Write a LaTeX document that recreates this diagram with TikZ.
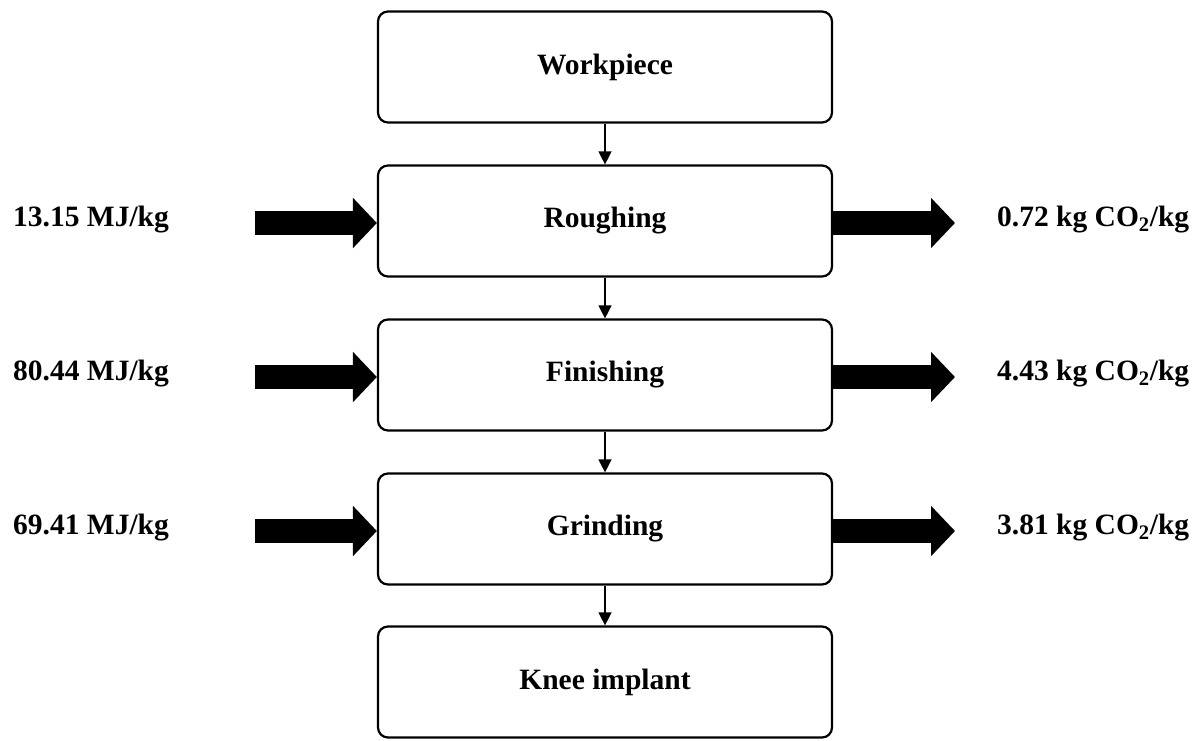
\documentclass[tikz,border=0pt]{standalone}
\usepackage{fontspec}
\setmainfont{Liberation Serif}
\usetikzlibrary{arrows.meta}

\begin{document}
\begin{tikzpicture}[x=1pt, y=-1pt,
    stage/.style={draw, line width=2.2pt, rounded corners=10pt,
        minimum width=454pt, minimum height=111pt, inner sep=0pt},
    flow/.style={line width=1.3pt, -{Triangle[length=13pt, width=13pt]}},
    fat/.style={line width=24pt, -{Triangle[length=24pt, width=49pt]}},
    lbl/.style={inner sep=0pt},
    every node/.style={font=\bfseries\fontsize{29.5}{34}\selectfont}]
\useasboundingbox (0,0) rectangle (1202,740);
%%   kw   (name)   (x, y)   {text}
    \node[stage] (wp)  at (605, 67)   {Workpiece};
    \node[stage] (rgh) at (605, 221)  {Roughing};
    \node[stage] (fin) at (605, 375)  {Finishing};
    \node[stage] (grd) at (605, 529)  {Grinding};
    \node[stage] (kn)  at (605, 682)  {Knee implant};

    \node[lbl, anchor=base west] (en1) at (13, 226)  {13.15 MJ/kg};
    \node[lbl, anchor=base west] (en2) at (13, 380)  {80.44 MJ/kg};
    \node[lbl, anchor=base west] (en3) at (13, 534)  {69.41 MJ/kg};
    \node[lbl, anchor=base west] (co1) at (997, 226) {0.72 kg CO\textsubscript{2}/kg};
    \node[lbl, anchor=base west] (co2) at (997, 380) {4.43 kg CO\textsubscript{2}/kg};
    \node[lbl, anchor=base west] (co3) at (997, 534) {3.81 kg CO\textsubscript{2}/kg};

    \coordinate (in1) at (255, 223);
    \coordinate (in2) at (255, 377);
    \coordinate (in3) at (255, 531);
    \coordinate (out1) at (955, 223);
    \coordinate (out2) at (955, 377);
    \coordinate (out3) at (955, 531);

    \draw[flow] (wp) -- (rgh);
    \draw[flow] (rgh) -- (fin);
    \draw[flow] (fin) -- (grd);
    \draw[flow] (grd) -- (kn);

    \draw[fat] (in1) -- (rgh.west |- in1);
    \draw[fat] (in2) -- (fin.west |- in2);
    \draw[fat] (in3) -- (grd.west |- in3);
    \draw[fat] (rgh.east |- out1) -- (out1);
    \draw[fat] (fin.east |- out2) -- (out2);
    \draw[fat] (grd.east |- out3) -- (out3);
\end{tikzpicture}
\end{document}
